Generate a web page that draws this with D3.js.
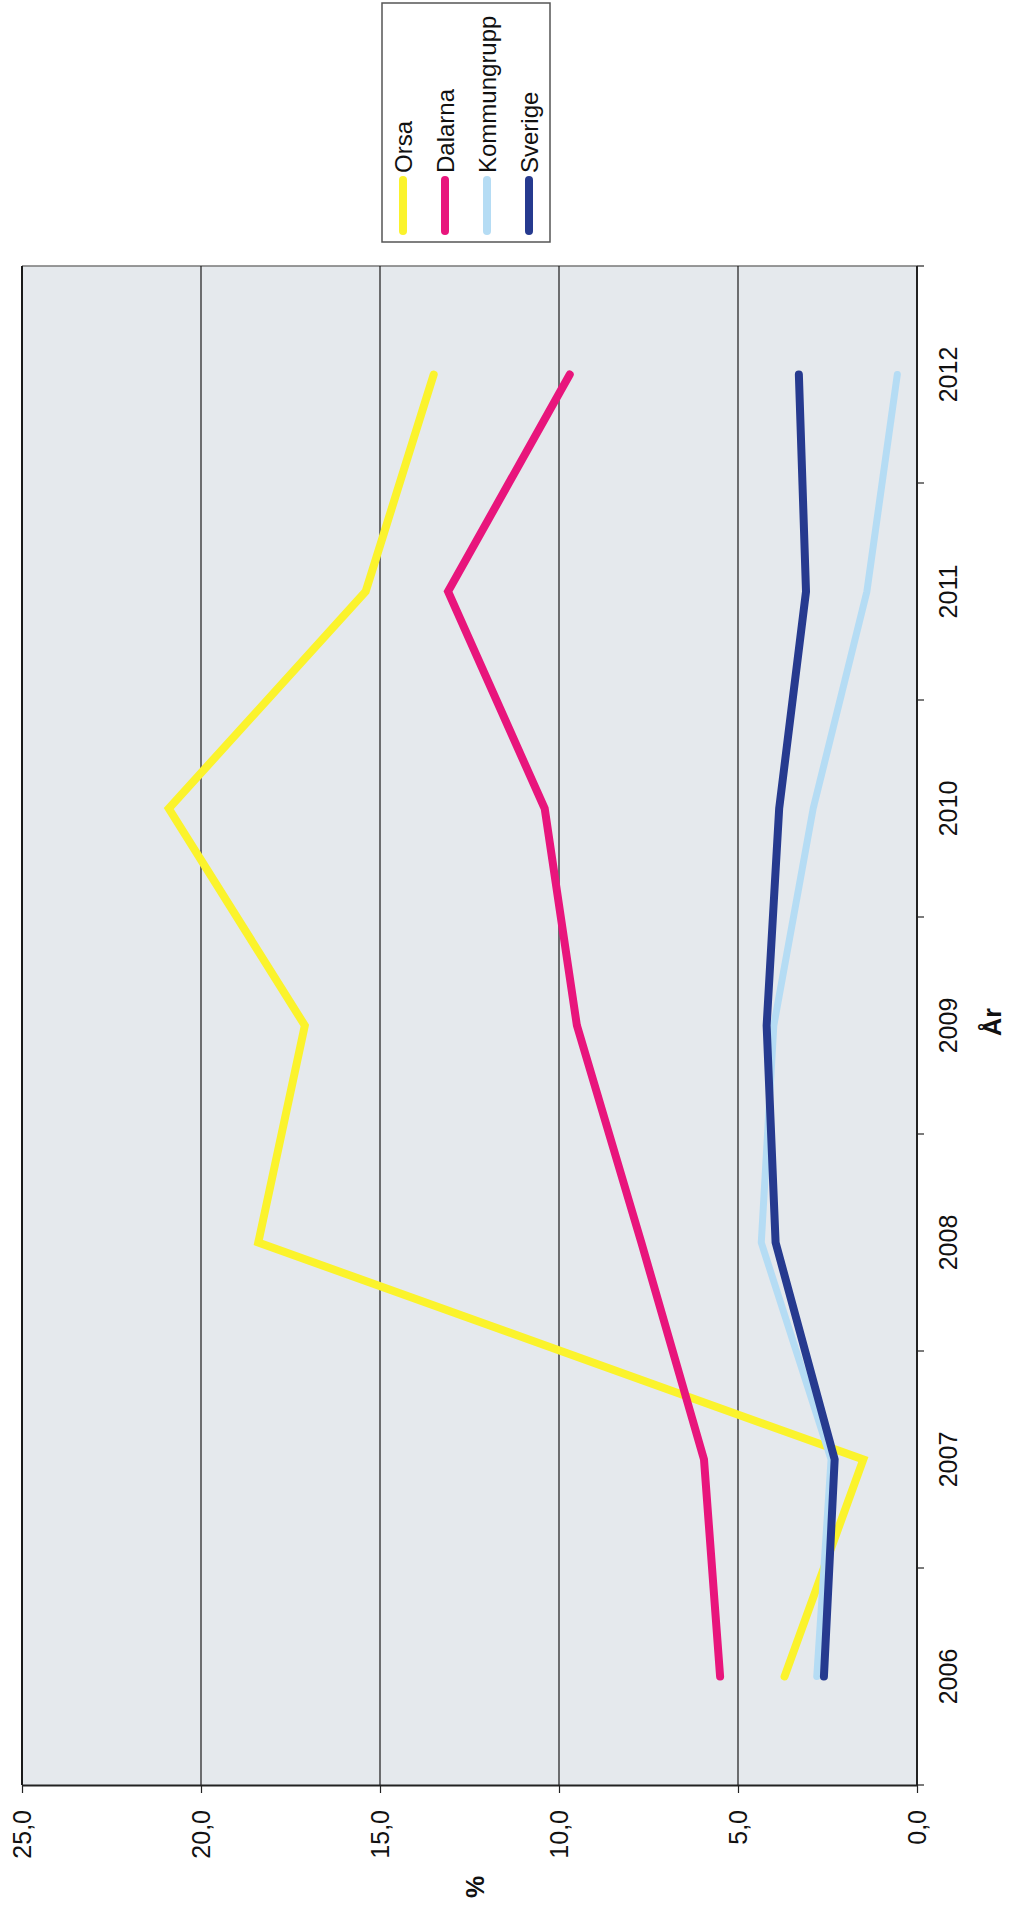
<!DOCTYPE html>
<html>
<head>
<meta charset="utf-8">
<script src="https://cdn.jsdelivr.net/npm/d3@7"></script>
<style>
  html, body { margin: 0; padding: 0; background: #fff; }
  svg text { font-family: "Liberation Sans", Arial, sans-serif; fill: #111; }
</style>
</head>
<body>
<div id="chart"></div>
<script>
/* rotated line chart: years run bottom→top, % runs right→left */

const YEARS = ["2006", "2007", "2008", "2009", "2010", "2011", "2012"];
const ORSA        = [3.7, 1.5, 18.4, 17.1, 20.9, 15.4, 13.5];
const DALARNA     = [5.5, 5.95, 7.7, 9.5, 10.4, 13.1, 9.7];
const KOMMUNGRUPP = [2.8, 2.4, 4.35, 4.0, 2.9, 1.4, 0.55];
const SVERIGE     = [2.6, 2.3, 3.95, 4.2, 3.85, 3.1, 3.3];
const SERIES_NAMES = ["Orsa", "Dalarna", "Kommungrupp", "Sverige"];
const VALUE_TICKS = [0, 5, 10, 15, 20, 25];

const COLORS = {
  Orsa: "#fbf32c",
  Dalarna: "#e8157c",
  Kommungrupp: "#b5dcf4",
  Sverige: "#263a8f"
};

const W = 1017, H = 1908;
const PLOT = { left: 22, right: 917, top: 266, bottom: 1785 };

const series = [
  { name: "Orsa", values: ORSA },
  { name: "Dalarna", values: DALARNA },
  { name: "Kommungrupp", values: KOMMUNGRUPP },
  { name: "Sverige", values: SVERIGE }
];

const svg = d3.select("#chart").append("svg")
  .attr("width", W).attr("height", H);

// scales
const xS = d3.scaleLinear().domain([0, 25]).range([PLOT.right, PLOT.left]);
const yS = d3.scaleBand().domain(YEARS).range([PLOT.bottom, PLOT.top]).padding(0);
const yc = d => yS(d) + yS.bandwidth() / 2;

const fmt = v => d3.format(".1f")(v).replace(".", ",");

// plot background
svg.append("rect")
  .attr("x", PLOT.left).attr("y", PLOT.top)
  .attr("width", PLOT.right - PLOT.left).attr("height", PLOT.bottom - PLOT.top)
  .attr("fill", "#e5e9ed");

// top border (greyish)
svg.append("line")
  .attr("x1", PLOT.left).attr("x2", PLOT.right)
  .attr("y1", PLOT.top).attr("y2", PLOT.top)
  .attr("stroke", "#777").attr("stroke-width", 1.5);

// gridlines
svg.append("g").selectAll("line")
  .data(VALUE_TICKS.filter(v => v > 0))
  .join("line")
  .attr("x1", d => xS(d)).attr("x2", d => xS(d))
  .attr("y1", PLOT.top).attr("y2", PLOT.bottom)
  .attr("stroke", "#1a1a1a").attr("stroke-width", d => d === 25 ? 2 : 1.2);

// value axis (bottom)
const xAxis = svg.append("g")
  .attr("transform", `translate(0,${PLOT.bottom})`)
  .call(d3.axisBottom(xS).tickValues(VALUE_TICKS).tickFormat(fmt).tickSize(8).tickSizeOuter(0));
xAxis.select(".domain").attr("stroke", "#222").attr("stroke-width", 2);
xAxis.selectAll(".tick line").attr("stroke", "#222").attr("stroke-width", 1.2);
xAxis.selectAll(".tick text")
  .attr("transform", "rotate(-90)")
  .attr("x", -25).attr("y", 0).attr("dy", "0.35em")
  .attr("text-anchor", "end")
  .style("font-size", "25px")
  .style("font-family", "'Liberation Sans', Arial, sans-serif")
  .attr("fill", "#111");

// category axis (right)
svg.append("line")
  .attr("x1", PLOT.right).attr("x2", PLOT.right)
  .attr("y1", PLOT.top).attr("y2", PLOT.bottom)
  .attr("stroke", "#222").attr("stroke-width", 2);

const edges = YEARS.map(d => yS(d)).concat([PLOT.bottom]);
svg.append("g").selectAll("line")
  .data(edges)
  .join("line")
  .attr("x1", PLOT.right).attr("x2", PLOT.right + 7)
  .attr("y1", d => d).attr("y2", d => d)
  .attr("stroke", "#222").attr("stroke-width", 1.2);

svg.append("g").selectAll("text")
  .data(YEARS)
  .join("text")
  .attr("transform", d => `translate(${PLOT.right + 40},${yc(d)}) rotate(-90)`)
  .attr("text-anchor", "middle")
  .style("font-size", "25px")
  .text(d => d);

// axis titles
svg.append("text")
  .attr("transform", `translate(484,1887) rotate(-90)`)
  .attr("text-anchor", "middle")
  .style("font-size", "25px").style("font-weight", "bold")
  .text("%");

svg.append("text")
  .attr("transform", `translate(1001,1022) rotate(-90)`)
  .attr("text-anchor", "middle")
  .style("font-size", "25px").style("font-weight", "bold")
  .text("År");

// lines
const lineGen = d3.line()
  .x(d => xS(d.v))
  .y(d => yc(d.year));

svg.append("g").selectAll("path")
  .data(series)
  .join("path")
  .attr("d", s => lineGen(s.values.map((v, i) => ({ v, year: YEARS[i] }))))
  .attr("fill", "none")
  .attr("stroke", s => COLORS[s.name])
  .attr("stroke-width", s => s.name === "Kommungrupp" ? 7 : 8)
  .attr("stroke-linecap", "round")
  .attr("stroke-linejoin", "miter");

// legend
const leg = svg.append("g");
leg.append("rect")
  .attr("x", 382).attr("y", 3).attr("width", 168).attr("height", 239)
  .attr("fill", "#fff").attr("stroke", "#555").attr("stroke-width", 1.5);

const legItem = leg.selectAll("g.item")
  .data(SERIES_NAMES)
  .join("g").attr("class", "item")
  .attr("transform", (d, i) => `translate(${403 + i * 42},0)`);

legItem.append("line")
  .attr("x1", 0).attr("x2", 0).attr("y1", 180).attr("y2", 231)
  .attr("stroke", d => COLORS[d]).attr("stroke-width", 8)
  .attr("stroke-linecap", "round");

legItem.append("text")
  .attr("transform", "translate(9,173) rotate(-90)")
  .attr("text-anchor", "start")
  .style("font-size", "24px")
  .text(d => d);
</script>
</body>
</html>
